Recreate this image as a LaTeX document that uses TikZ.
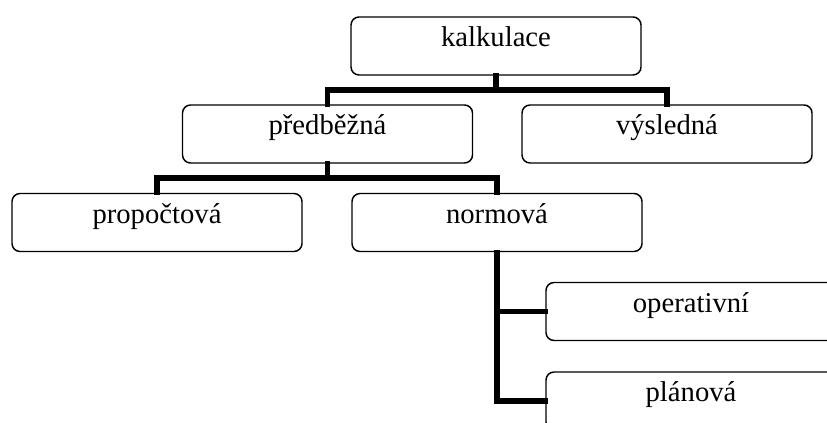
\documentclass[tikz,border=0pt]{standalone}
\usepackage{fontspec}
\setmainfont{Liberation Serif}
\usepackage{tikz}
\usetikzlibrary{calc}

\begin{document}
\begin{tikzpicture}[
    x=0.75pt, y=-0.75pt,
    box/.style={rectangle, draw=black, line width=1.1pt, fill=white, rounded corners=6pt,
                minimum width=217.5pt, minimum height=43.5pt, inner sep=0pt,
                text height=22.5pt, text depth=21pt, font=\fontsize{21.5pt}{26pt}\selectfont},
    conn/.style={line width=3.8pt, line join=miter, line cap=rect}
]
\useasboundingbox (0,0) rectangle (827,423);
\clip (0,0) rectangle (827,423);

% Boxes
\node[box] (kalk) at (496,46) {kalkulace};
\node[box] (pred) at (327.5,134) {předběžná};
\node[box] (vysl) at (667,134) {výsledná};
\node[box] (prop) at (157,222.5) {propočtová};
\node[box] (norm) at (497,222.5) {normová};
\node[box] (oper) at (691,311.5) {operativní};
\node[box] (plan) at (691,401) {plánová};

% Junctions
\coordinate (bar1) at (0,90);
\coordinate (bar2) at (0,178);

% Connectors
\draw[conn] (kalk.south) -- (kalk.south |- bar1);
\draw[conn] (pred.north) -- (pred.north |- bar1) -- (vysl.north |- bar1) -- (vysl.north);
\draw[conn] (pred.south) -- (pred.south |- bar2);
\draw[conn] (prop.north) -- (prop.north |- bar2) -- (norm.north |- bar2) -- (norm.north);
\draw[conn] (norm.south) |- (plan.west);
\draw[conn] (norm.south |- oper.west) -- (oper.west);

\end{tikzpicture}
\end{document}
